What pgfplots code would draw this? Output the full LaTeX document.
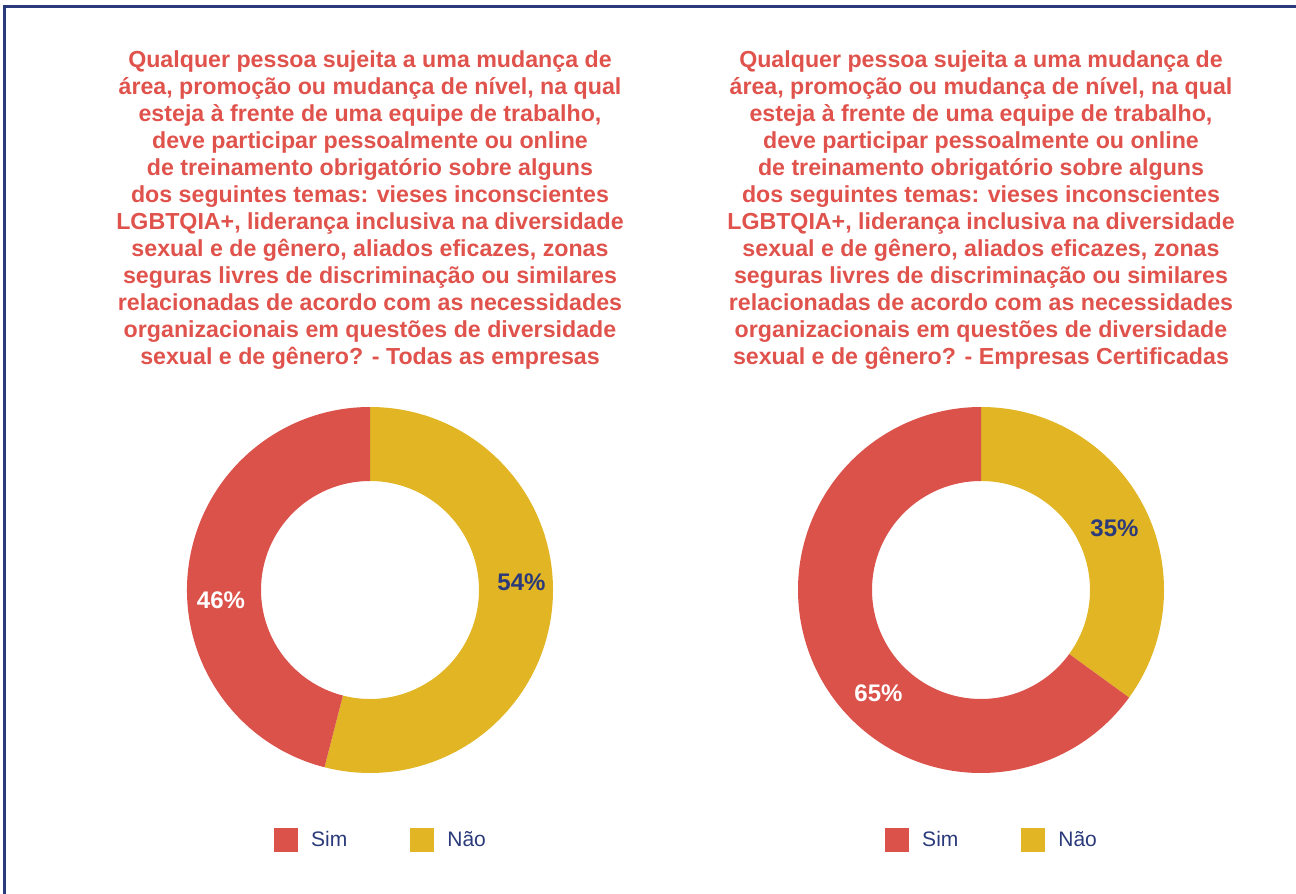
\documentclass[border=0pt]{standalone}
\usepackage{fontspec}
\setmainfont{Liberation Sans}
\usepackage{pgfplots}
\pgfplotsset{compat=1.18}
\usepackage{pgfplotstable}

\definecolor{simc}{HTML}{DB524B}
\definecolor{naoc}{HTML}{E1B524}
\definecolor{navy}{HTML}{2B3A7A}
\definecolor{titc}{HTML}{E0524C}

% idx 0 = Sim, 1 = Nao; off = share already drawn; lx,ly = label offset (px)
\pgfplotstableread{
idx value off lx ly
1 54 0 151.5 7.5
0 46 54 -149 -10
}\todas
\pgfplotstableread{
idx value off lx ly
1 35 0 133.5 62
0 65 35 -102.5 -103.5
}\certif

\pgfplotsset{
 donut/.style={
  hide axis, scale only axis, width=183pt, height=182pt,
  xmin=-183, xmax=183, ymin=-182, ymax=182, clip=false, anchor=center,
  legend columns=2,
  legend style={draw=none, fill=none, at={(0.533,-0.187)}, anchor=center,
   font=\fontsize{10.5}{12}\selectfont, text=navy,
   /tikz/every even column/.append style={column sep=29.5pt}},
  legend image code/.code={\fill[##1, draw=none] (0pt,-6pt) rectangle (12pt,6pt);
   \path[draw=none, fill=none] (0pt,0pt) rectangle (16.5pt,0.1pt);},
 },
 slices/.style={scatter, only marks, mark=*, mark size=0pt,
  point meta=\thisrow{idx},
  visualization depends on={\thisrow{value} \as \val},
  visualization depends on={\thisrow{off} \as \off},
  visualization depends on={\thisrow{idx} \as \idx},
  visualization depends on={\thisrow{lx} \as \lx},
  visualization depends on={\thisrow{ly} \as \ly},
  scatter/@pre marker code/.code={
    \pgfmathsetmacro\sa{90-3.6*\off}
    \pgfmathsetmacro\sb{90-3.6*(\off+\val)}
    \pgfmathtruncatemacro\vi{\val}
    \ifdim\idx pt<0.5pt \def\sc{simc}\def\lc{white}\else\def\sc{naoc}\def\lc{navy}\fi
    \path[fill=\sc, draw=none, opacity=1] (\sa:91.5pt) arc[start angle=\sa, end angle=\sb, radius=91.5pt]
      -- (\sb:54.5pt) arc[start angle=\sb, end angle=\sa, radius=54.5pt] -- cycle;
    \node[text=\lc, opacity=1, font=\bfseries\fontsize{12}{14}\selectfont]
      at (\lx*0.5pt, \ly*0.5pt) {\vi\%};
  },
  scatter/@post marker code/.code={},
 },
}

\begin{document}
\begin{tikzpicture}
\useasboundingbox (0pt,0pt) rectangle (648pt,447pt);
\draw[navy, line width=1.5pt] (2pt,0pt) -- (2pt,443.5pt) -- (648pt,443.5pt);

\begin{axis}[donut, at={(185pt,152pt)}]
\addplot[slices, forget plot] table[x expr=0, y expr=0] {\todas};
\addlegendimage{fill=simc}
\addlegendentry{Sim}
\addlegendimage{fill=naoc}
\addlegendentry{Não}
\end{axis}

\begin{axis}[donut, at={(490.5pt,152pt)}]
\addplot[slices, forget plot] table[x expr=0, y expr=0] {\certif};
\addlegendimage{fill=simc}
\addlegendentry{Sim}
\addlegendimage{fill=naoc}
\addlegendentry{Não}
\end{axis}

\tikzset{ttl/.style={anchor=north, inner sep=0pt, align=center, text=titc,
  font=\bfseries\fontsize{11.6}{13.5}\selectfont}}
\node[ttl] at (185pt,422pt) {Qualquer pessoa sujeita a uma mudança de\\
área, promoção ou mudança de nível, na qual\\
esteja à frente de uma equipe de trabalho,\\
deve participar pessoalmente ou online\\
de treinamento obrigatório sobre alguns\\
dos seguintes temas: vieses inconscientes\\
LGBTQIA+, liderança inclusiva na diversidade\\
sexual e de gênero, aliados eficazes, zonas\\
seguras livres de discriminação ou similares\\
relacionadas de acordo com as necessidades\\
organizacionais em questões de diversidade\\
sexual e de gênero? - Todas as empresas};
\node[ttl] at (490.5pt,422pt) {Qualquer pessoa sujeita a uma mudança de\\
área, promoção ou mudança de nível, na qual\\
esteja à frente de uma equipe de trabalho,\\
deve participar pessoalmente ou online\\
de treinamento obrigatório sobre alguns\\
dos seguintes temas: vieses inconscientes\\
LGBTQIA+, liderança inclusiva na diversidade\\
sexual e de gênero, aliados eficazes, zonas\\
seguras livres de discriminação ou similares\\
relacionadas de acordo com as necessidades\\
organizacionais em questões de diversidade\\
sexual e de gênero? - Empresas Certificadas};
\end{tikzpicture}
\end{document}
